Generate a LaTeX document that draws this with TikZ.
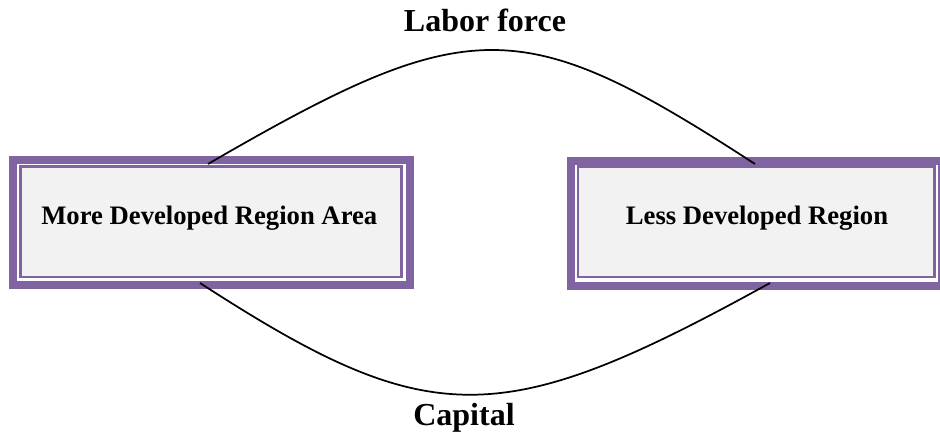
\documentclass[tikz,border=0pt]{standalone}
\usepackage{fontspec}
\setmainfont{Liberation Serif}
\definecolor{bandpurple}{HTML}{8064A2}
\definecolor{boxfill}{HTML}{F2F2F2}
\tikzset{
  outerbox/.style={draw=bandpurple, line width=6pt, fill=white, inner sep=0pt},
  innerbox/.style={draw=bandpurple, line width=1.9pt, fill=boxfill, inner sep=0pt},
  boxtext/.style={font=\fontsize{20pt}{24pt}\selectfont\bfseries, inner sep=0pt, anchor=base},
  flowlabel/.style={font=\fontsize{24pt}{28pt}\selectfont\bfseries, inner sep=0pt, anchor=base},
  flow/.style={draw=black, line width=1.3pt}
}
\begin{document}
\begin{tikzpicture}[x=0.75pt,y=-0.75pt]
\useasboundingbox (0,0) rectangle (940,438);
% left box
\node[outerbox, minimum width=297.75pt, minimum height=93.75pt] (LB) at (211.5,223) {};
\node[innerbox, minimum width=285.75pt, minimum height=82.7pt] (LI) at (210.8,221.85) {};
\node[boxtext] (LT) at (209.3,225) {More Developed Region Area};
% right box
\node[outerbox, minimum width=278.25pt, minimum height=93.75pt] (RB) at (756.5,223.25) {};
\node[innerbox, minimum width=267.4pt, minimum height=82.7pt] (RI) at (756.25,221.85) {};
\node[boxtext] (RT) at (757,225) {Less Developed Region};
% connector end points on the boxes
\coordinate (LTop) at (208,164);
\coordinate (RTop) at (755,164);
\coordinate (LBot) at (200,283);
\coordinate (RBot) at (770,283);
% curves
\draw[flow] (LTop) .. controls (470,12) and (521,12) .. (RTop);
\draw[flow] (LBot) .. controls (430,432) and (500,432) .. (RBot);
% labels
\node[flowlabel] (labor) at (485,32) {Labor force};
\node[flowlabel] (capital) at (464,426) {Capital};
\end{tikzpicture}
\end{document}
